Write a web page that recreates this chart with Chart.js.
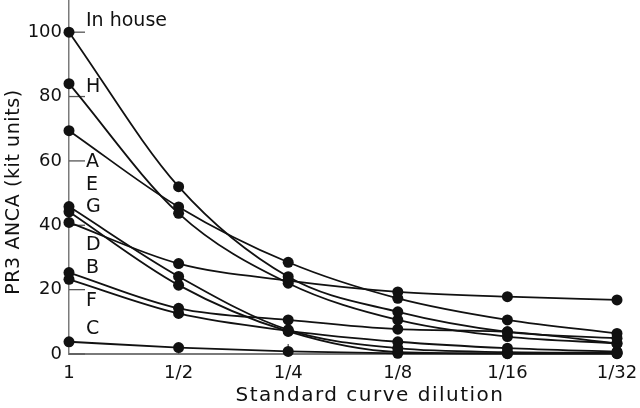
<!DOCTYPE html>
<html>
<head>
<meta charset="utf-8">
<script src="https://cdn.jsdelivr.net/npm/chart.js@4.4.1/dist/chart.umd.min.js"></script>
<style>
  html, body { margin: 0; padding: 0; background: #fff; }
  #wrap { width: 640px; height: 408px; }
</style>
</head>
<body>
<div id="wrap"><canvas id="c" width="640" height="408"></canvas></div>
<script>
// ---- data ----
const categories = ['1', '1/2', '1/4', '1/8', '1/16', '1/32'];
const seriesNames = ['In house', 'H', 'A', 'E', 'G', 'D', 'B', 'F', 'C'];
const inHouse = [100, 52, 24, 13.1, 6.9, 4.9];
const seriesH = [84, 43.7, 22, 10.6, 5.4, 3.3];
const seriesA = [69.4, 45.7, 28.5, 17.3, 10.6, 6.4];
const seriesE = [45.8, 24.1, 7.5, 1.8, 0.6, 0.4];
const seriesG = [44.2, 21.4, 7.0, 0.6, 0.2, 0.2];
const seriesD = [40.9, 28.1, 22.8, 19.3, 17.8, 16.8];
const seriesB = [25.3, 14.2, 10.6, 7.7, 6.9, 3.3];
const seriesF = [23.2, 12.6, 7.2, 3.8, 1.8, 0.7];
const seriesC = [3.8, 2.0, 0.8, 0.2, 0.1, 0.1];
const labelValues = [103.4, 83, 59.6, 52.5, 45.7, 33.9, 26.7, 16.5, 7.8];
const yTicks = [0, 20, 40, 60, 80, 100];
const xTitle = 'Standard curve dilution';
const yTitle = 'PR3 ANCA (kit units)';

const allSeries = [inHouse, seriesH, seriesA, seriesE, seriesG, seriesD, seriesB, seriesF, seriesC];

const FONT = '"DejaVu Sans", sans-serif';
const INK = '#111';
const AXIS = '#7a7a7a';

const datasets = allSeries.map((vals, i) => ({
  label: seriesNames[i],
  data: vals,
  borderColor: INK,
  backgroundColor: INK,
  borderWidth: 1.8,
  pointRadius: 5.5,
  pointHoverRadius: 5.5,
  pointBorderWidth: 0,
  cubicInterpolationMode: 'monotone',
  fill: false,
  clip: false
}));

const decorPlugin = {
  id: 'decor',
  beforeDatasetsDraw(chart) {
    const ctx = chart.ctx;
    const xs = chart.scales.x, ys = chart.scales.y;
    const left = chart.chartArea.left, bottom = chart.chartArea.bottom;
    ctx.save();
    ctx.strokeStyle = '#555';
    ctx.lineWidth = 1.3;
    yTicks.forEach(v => {
      const py = ys.getPixelForValue(v);
      ctx.beginPath(); ctx.moveTo(left, py); ctx.lineTo(left + 16, py); ctx.stroke();
    });
    categories.forEach((c, i) => {
      if (i === 0) return;
      const px = xs.getPixelForValue(i);
      ctx.beginPath(); ctx.moveTo(px, bottom); ctx.lineTo(px, bottom - 10); ctx.stroke();
    });
    ctx.restore();
  },
  afterDraw(chart) {
    const ctx = chart.ctx;
    const xs = chart.scales.x, ys = chart.scales.y;
    const ca = chart.chartArea;
    ctx.save();
    ctx.fillStyle = INK;
    ctx.font = '19px ' + FONT;
    ctx.textAlign = 'left';
    ctx.textBaseline = 'middle';
    seriesNames.forEach((n, i) => {
      ctx.fillText(n, xs.getPixelForValue(0) + 17, ys.getPixelForValue(labelValues[i]));
    });
    // axis titles
    ctx.font = '20px ' + FONT;
    ctx.letterSpacing = '1.5px';
    ctx.textAlign = 'center';
    ctx.textBaseline = 'middle';
    ctx.fillText(xTitle, (ca.left + ca.right) / 2 + 27, 396);
    ctx.font = '19px ' + FONT;
    ctx.letterSpacing = '0.6px';
    ctx.translate(14, (ca.top + ca.bottom) / 2 + 15);
    ctx.rotate(-Math.PI / 2);
    ctx.fillText(yTitle, 0, 0);
    ctx.restore();
  }
};

new Chart(document.getElementById('c'), {
  type: 'line',
  data: { labels: categories, datasets },
  options: {
    responsive: false,
    animation: false,
    events: [],
    layout: { autoPadding: false, padding: { top: 0, right: 23, bottom: 0, left: 0 } },
    plugins: { legend: { display: false }, tooltip: { enabled: false } },
    scales: {
      x: {
        type: 'category',
        offset: false,
        grid: { display: true, drawOnChartArea: false, drawTicks: false, offset: false },
        border: { display: true, color: AXIS, width: 2 },
        ticks: { color: INK, font: { family: FONT, size: 18 }, padding: 9, maxRotation: 0, autoSkip: false },
        afterFit(scale) { scale.height = 54; scale.paddingLeft = 0; scale.paddingRight = 0; }
      },
      y: {
        type: 'linear',
        min: 0,
        max: 110,
        grid: { display: true, drawOnChartArea: false, drawTicks: false },
        border: { display: true, color: AXIS, width: 1.5 },
        ticks: { color: INK, font: { family: FONT, size: 18 }, padding: 7 },
        afterBuildTicks(scale) { scale.ticks = yTicks.map(v => ({ value: v })); },
        afterFit(scale) { scale.width = 69; scale.paddingTop = 0; scale.paddingBottom = 0; }
      }
    }
  },
  plugins: [decorPlugin]
});
</script>
</body>
</html>
